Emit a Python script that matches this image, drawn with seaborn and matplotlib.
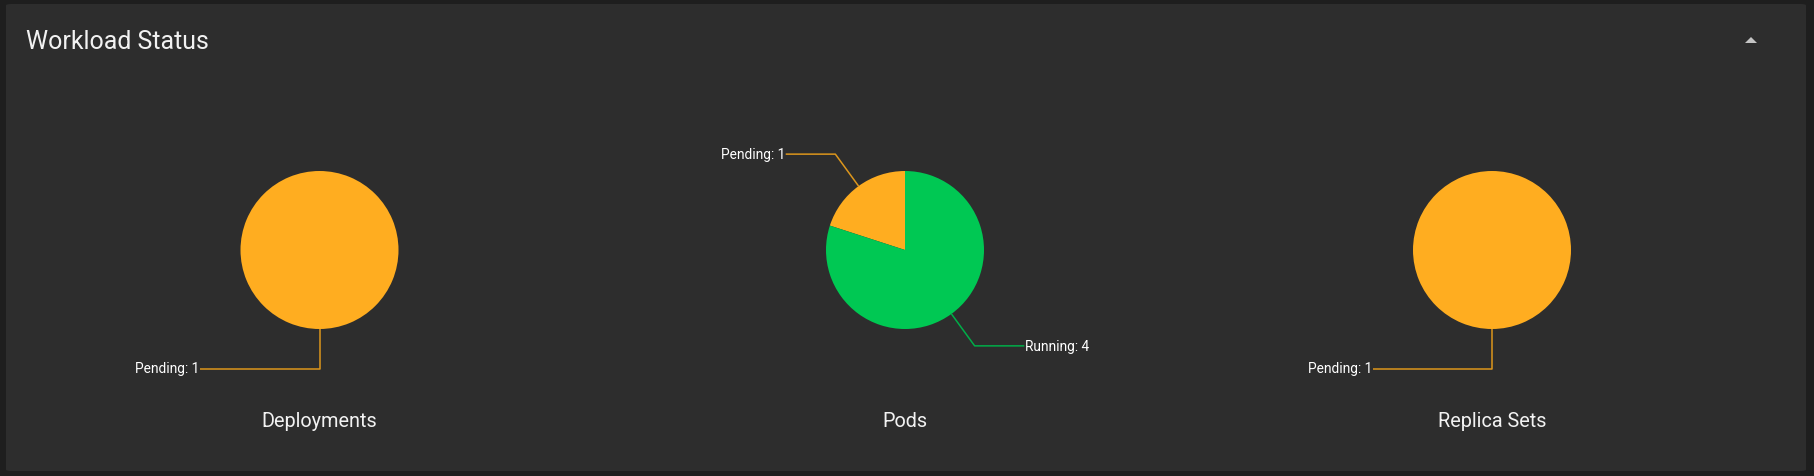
import numpy as np
import matplotlib.pyplot as plt
import seaborn as sns
from matplotlib.patches import FancyBboxPatch, Polygon

# chart data
chart_titles = ["Deployments", "Pods", "Replica Sets"]
deployment_states = ["Pending"]
deployment_counts = [1]
pod_states = ["Pending", "Running"]
pod_counts = [1, 4]
replica_states = ["Pending"]
replica_counts = [1]

state_colors = {"Pending": "#ffad20", "Running": "#00c853"}
line_colors = {"Pending": "#dc961c", "Running": "#00ad48"}

sns.set_theme(style="dark")
plt.rcParams['font.family'] = ['Roboto', 'DejaVu Sans']

W, H = 1815, 477
fig = plt.figure(figsize=(W / 100, H / 100), dpi=100)
fig.patch.set_facecolor("#1e1e1e")

# card background
card = FancyBboxPatch((6 / W, 1 - 472 / H), 1800 / W, 467 / H,
                      boxstyle="round,pad=0,rounding_size=0.003",
                      transform=fig.transFigure, facecolor="#2d2d2d",
                      edgecolor="none", zorder=-10)
fig.patches.append(card)

fig.text(26 / W, 1 - 49 / H, "Workload Status", fontsize=17.9,
         color="#f2f2f2", va="baseline", ha="left")

# collapse caret
caret = Polygon([(1745 / W, 1 - 44 / H), (1757 / W, 1 - 44 / H), (1751 / W, 1 - 38 / H)],
                closed=True, transform=fig.transFigure, facecolor="#c4c4c4",
                edgecolor="none", zorder=-5)
fig.patches.append(caret)

datasets = [(deployment_states, deployment_counts),
            (pod_states, pod_counts),
            (replica_states, replica_counts)]
centers = [319.5, 905, 1492]
cy = 251
half = 150  # half axes size in px, radius 1 == 79 px

for title, (states, counts), cx in zip(chart_titles, datasets, centers):
    ax = fig.add_axes([(cx - half) / W, 1 - (cy + half) / H, 2 * half / W, 2 * half / H])
    ax.set_zorder(2)
    ax.set_facecolor("none")
    ax.pie(counts, colors=[state_colors[s] for s in states],
           startangle=90, counterclock=True, wedgeprops=dict(linewidth=0))
    lim = half / 79
    ax.set_xlim(-lim, lim)
    ax.set_ylim(-lim, lim)
    ax.set_aspect("equal")
    ax.axis("off")

    # leader lines from the middle of each slice
    fracs = np.array(counts, dtype=float) / sum(counts)
    starts = 90 + 360 * np.concatenate([[0], np.cumsum(fracs)[:-1]])
    mids = np.deg2rad(starts + 180 * fracs)
    for m, s, c in zip(mids, states, counts):
        x0, y0 = np.cos(m), np.sin(m)
        ex, ey = 1.5 * x0, 1.5 * y0
        side = 1 if round(x0, 6) > 0 else -1
        tx = side * 1.51
        ax.plot([x0, ex, tx], [y0, ey, ey], color=line_colors[s], lw=1.1,
                solid_capstyle="butt")
        ax.text(tx + side * 0.01, ey, f"{s}: {c}", color="white", fontsize=9.9,
                ha="left" if side > 0 else "right", va="center")

    fig.text(cx / W, 1 - 427 / H, title, fontsize=14.3, color="#f2f2f2",
             ha="center", va="baseline")

fig.savefig("out.png", dpi=100, facecolor=fig.get_facecolor())
